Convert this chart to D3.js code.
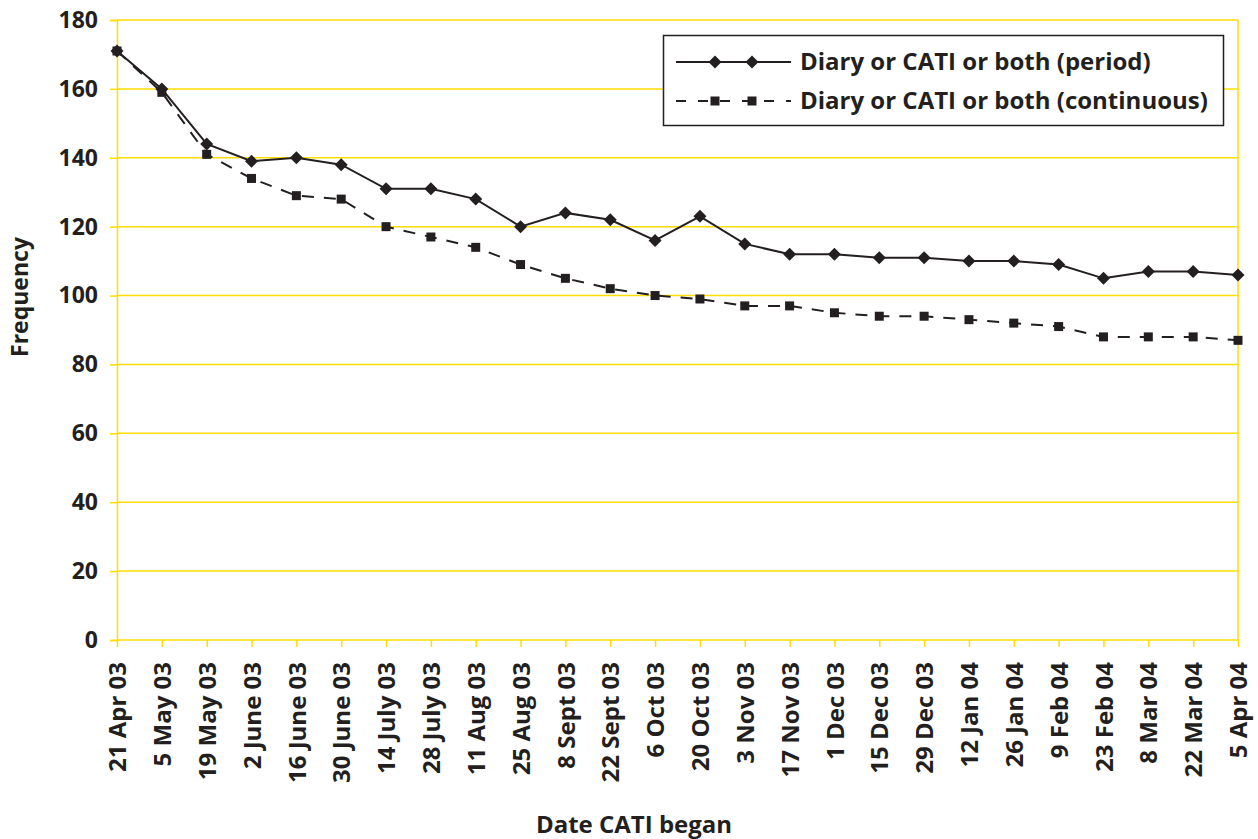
<!DOCTYPE html>
<html><head><meta charset="utf-8">
<script src="https://cdn.jsdelivr.net/npm/d3@7"></script>
<style>body{margin:0;background:#fff}svg{display:block}text{font-family:"Open Sans",sans-serif;font-weight:bold;fill:#231f20}</style>
</head><body><svg id="c" width="1258" height="839"></svg>
<script>
const categories = ["21 Apr 03","5 May 03","19 May 03","2 June 03","16 June 03","30 June 03","14 July 03","28 July 03","11 Aug 03","25 Aug 03","8 Sept 03","22 Sept 03","6 Oct 03","20 Oct 03","3 Nov 03","17 Nov 03","1 Dec 03","15 Dec 03","29 Dec 03","12 Jan 04","26 Jan 04","9 Feb 04","23 Feb 04","8 Mar 04","22 Mar 04","5 Apr 04"];
const periodValues = [171,160,144,139,140,138,131,131,128,120,124,122,116,123,115,112,112,111,111,110,110,109,105,107,107,106];
const continuousValues = [171,159,141,134,129,128,120,117,114,109,105,102,100,99,97,97,95,94,94,93,92,91,88,88,88,87];
const yTicks = [0,20,40,60,80,100,120,140,160,180];
const seriesNames = ["Diary or CATI or both (period)","Diary or CATI or both (continuous)"];

(function(){
const svg = d3.select("#c");
const pL = 117, pR = 1238, pT = 20, pB = 640;
const yellow = "#FFDD00", ink = "#231f20";
const x = d3.scalePoint().domain(categories).range([pL, pR]);
const y = d3.scaleLinear().domain([0,180]).range([pB, pT]);

svg.append("g").selectAll("line").data(yTicks.filter(d=>d>0)).join("line")
  .attr("x1", pL).attr("x2", pR).attr("y1", d=>y(d)).attr("y2", d=>y(d))
  .attr("stroke", yellow).attr("stroke-width", 1.5);
svg.append("line").attr("x1", pR).attr("x2", pR).attr("y1", pT).attr("y2", pB).attr("stroke", yellow).attr("stroke-width",1.5);

const yAxis = svg.append("g").attr("transform",`translate(${pL},0)`)
  .call(d3.axisLeft(y).tickValues(yTicks).tickSize(7).tickPadding(12));
yAxis.select(".domain").attr("stroke", yellow).attr("stroke-width",1.5);
yAxis.selectAll(".tick line").attr("stroke", yellow).attr("stroke-width",1.5);
yAxis.selectAll("text").style("font-size","23px").style("font-family","'Open Sans',sans-serif").style("font-weight","bold").attr("fill", ink);

const xAxis = svg.append("g").attr("transform",`translate(0,${pB})`)
  .call(d3.axisBottom(x).tickSize(7).tickSizeOuter(0));
xAxis.select(".domain").attr("stroke", yellow).attr("stroke-width",1.5).attr("d",`M${pL},0H${pR}`);
xAxis.selectAll(".tick line").attr("stroke", yellow).attr("stroke-width",1.5);
xAxis.selectAll("text").style("font-size","24px").style("font-family","'Open Sans',sans-serif").style("font-weight","bold").attr("fill", ink)
  .attr("transform","rotate(-90)").attr("text-anchor","end").attr("x",-22).attr("y",0).attr("dy","0.36em");

const line = d3.line().x((d,i)=>x(categories[i])).y(d=>y(d));
svg.append("path").datum(continuousValues).attr("d", line).attr("fill","none").attr("stroke", ink).attr("stroke-width",2).attr("stroke-dasharray","12,10");
svg.append("path").datum(periodValues).attr("d", line).attr("fill","none").attr("stroke", ink).attr("stroke-width",2);

const diam = (s)=> `M0,${-s}L${s},0L0,${s}L${-s},0Z`;
svg.append("g").selectAll("path").data(periodValues).join("path")
  .attr("d", diam(6.5)).attr("fill", ink)
  .attr("transform",(d,i)=>`translate(${x(categories[i])},${y(d)})`);
svg.append("g").selectAll("rect").data(continuousValues).join("rect")
  .attr("x",(d,i)=>x(categories[i])-4.5).attr("y",d=>y(d)-4.5).attr("width",9).attr("height",9).attr("fill", ink);

svg.append("text").attr("transform","translate(28,297) rotate(-90)").attr("text-anchor","middle").style("font-size","23px").text("Frequency");
svg.append("text").attr("x",634).attr("y",833).attr("text-anchor","middle").style("font-size","24px").text("Date CATI began");

const lg = svg.append("g");
lg.append("rect").attr("x",663.5).attr("y",35.5).attr("width",560).attr("height",90).attr("fill","#fff").attr("stroke",ink).attr("stroke-width",1.5);
const ly = [62,101];
lg.append("line").attr("x1",676).attr("x2",791).attr("y1",ly[0]).attr("y2",ly[0]).attr("stroke",ink).attr("stroke-width",2);
lg.append("line").attr("x1",676).attr("x2",791).attr("y1",ly[1]).attr("y2",ly[1]).attr("stroke",ink).attr("stroke-width",2).attr("stroke-dasharray","10,12");
[715,752].forEach(cx=>{
  lg.append("path").attr("d",diam(6.5)).attr("fill",ink).attr("transform",`translate(${cx},${ly[0]})`);
  lg.append("rect").attr("x",cx-4.5).attr("y",ly[1]-4.5).attr("width",9).attr("height",9).attr("fill",ink);
});
lg.selectAll("text.l").data(seriesNames).join("text").attr("class","l")
  .attr("x",800).attr("y",(d,i)=>ly[i]).attr("dy","0.35em").style("font-size","24px").text(d=>d);
})();
</script></body></html>
